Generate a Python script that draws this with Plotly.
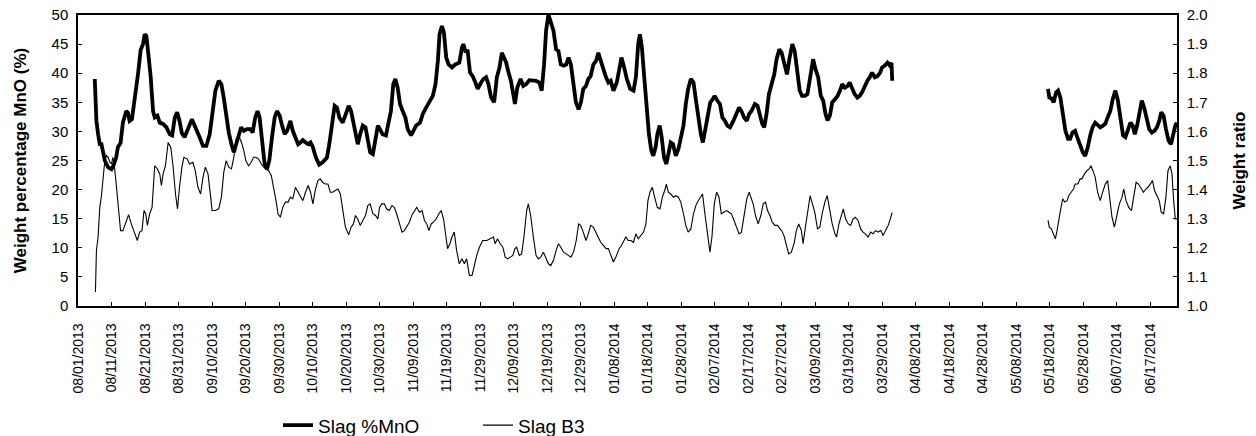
import pandas as pd
import plotly.graph_objects as go

start_date = "2013-08-01"

# Slag %MnO (left axis): day offset from 08/01/2013, value (%)
mno_day = [5.0,5.5,6.0,6.5,7.0,7.5,8.0,9.0,10.0,10.5,11.4,11.9,12.7,13.4,14.4,14.9,15.4,16.1,16.9,17.9,18.7,19.4,19.9,20.4,20.9,21.7,22.4,22.9,23.7,24.4,25.4,26.4,27.4,28.1,28.9,29.6,30.3,31.0,31.8,32.6,33.3,34.0,34.8,35.6,36.3,37.3,38.3,39.3,40.3,41.0,42.0,42.8,43.5,44.2,45,45.8,46.5,47.2,48,48.7,49.5,50.4,51.4,52.1,52.9,53.6,54.2,54.9,55.7,56.4,57.1,57.9,58.7,59.4,60.2,60.9,61.7,62.4,63.4,64.1,64.9,65.7,66.4,67.1,67.9,68.7,69.4,70.1,71,72,73,74.3,75,75.8,76.6,77.3,78,79,79.8,80.8,81.5,82.2,83,83.5,84.2,85,85.8,86.5,87.2,88,88.8,89.5,90.1,90.9,91.9,92.7,93.4,94.1,94.7,95.4,96.1,96.9,97.7,98.4,99.4,100.1,100.9,102.1,102.9,103.9,104.9,105.9,106.7,107.4,107.9,108.6,109.2,109.9,110.6,111.6,112.6,113.8,114.6,115,115.6,116.3,117,117.8,118.6,119.3,120.3,121,121.8,122.5,123.3,124.2,125,125.8,126.5,127,127.8,128.5,129.2,130,130.4,131.1,132.1,132.9,133.7,134.7,135.7,136.7,137.7,138.4,139.1,139.7,140.4,141.1,141.9,142.7,143.4,144.1,144.9,145.7,146.4,147.1,147.9,148.6,149.4,150.1,150.8,151.6,152.3,153,153.8,154.6,155.3,156,156.8,157.6,158.3,159,159.8,160.8,161.5,162.2,163,163.8,164.8,165.8,166.5,167.2,167.7,168.3,169,169.7,170.4,171.1,171.7,172.4,172.9,173.6,174.2,174.9,175.6,176.2,176.9,177.6,178.4,179.2,179.9,180.7,181.4,182.1,182.9,183.7,184.4,185.1,185.9,186.5,187.1,187.9,188.7,189.4,190,190.8,191.6,192.3,193.1,193.8,194.6,195.6,196.6,197.3,198,198.8,199.6,200.3,201,202,202.8,203.5,204.2,204.8,205.5,206.2,207,207.8,208.5,209.3,210,210.7,211.6,212.4,213.2,213.9,214.7,215.4,216.1,216.9,217.7,218.5,219.4,220.1,220.9,221.7,222.4,223.1,223.7,224.4,225.1,225.9,226.7,227.4,228.1,228.9,229.7,230.3,231,231.8,232.6,233.3,234,234.8,235.6,236.3,237,237.8,238.6,239.4,240,240.8,241.6,242.3,242.8,243,
           266,
           289.5,289.9,290.5,291.2,291.9,292.5,293.2,293.9,294.7,295.5,296.1,296.8,297.6,298.4,299.1,299.9,300.6,301.4,302.1,302.8,303.6,304.4,305.1,305.9,306.6,307.3,308.1,308.8,309.6,310.3,311.1,311.9,312.6,313.4,314.1,314.8,315.4,316.1,316.8,317.5,318.2,319,319.7,320.5,321.3,322,322.7,323.3,324,324.7,325.5,326.2,326.9,327.5,328]
mno_val = [39.0,31.8,29.5,27.8,27.8,26.0,25.0,23.8,23.5,24.0,25.5,27.3,28.0,31.5,33.5,33.2,31.8,32.1,35.3,39.8,44.0,45.0,46.7,46.4,43.8,39.3,33.5,32.4,32.7,31.5,31.3,30.7,29.5,29.3,32.4,33.3,31.8,29.7,29.0,30.1,31.3,32.1,31.0,30.1,29.0,27.5,27.5,29.5,33.5,37.0,38.7,38.1,35.8,32.4,29.8,27.8,26.4,27.8,29.5,30.7,30.1,30.4,30.4,29.8,32.4,33.5,32.4,27.8,24.4,23.5,25,29,32.4,33.5,32.7,31,29.5,30.1,31.8,30.1,29,27.8,28.1,28.5,28.1,27.8,28.1,27.3,25.5,24.3,24.7,25.5,27.8,31.3,34.4,34.1,32.4,31.5,32.7,34.4,33.5,31.3,29,27.8,29.5,31,30.7,28.4,26.4,26.1,29,31,30.4,29.5,29.3,31.3,33.5,38.1,39,37.5,34.7,33.5,32.4,30.4,29.3,30.1,31,31.5,33,34.1,35,36.1,38.1,42.1,46.7,48.1,47,42.7,41.5,41,41.5,41.8,44.4,45,43.8,43.8,40.1,39.5,38.4,37.3,38.4,39,39.3,38.1,35.8,35,39.3,41,43.5,42.7,41.8,40.1,38.7,36.1,34.7,37.5,39,37.8,38.1,38.8,38.7,38.7,38.4,37,41.5,47.3,50.1,49,47.3,44.1,43.8,41.5,41.3,41.5,42.7,41.5,37.5,35,33.8,35,37.3,37.8,39,39.5,41.5,42.1,43.5,42.4,40.7,39.3,38.4,38.7,37,38.4,41,42.7,41,39,37.3,37,39.3,45,46.7,44.4,39.3,34.1,29.5,26.7,25.8,27.3,29.5,31,29,25.5,24.4,26.1,28.1,27.8,25.8,27,29,31,34.7,37.3,39,38.4,35.5,32.4,29.5,28.1,30.1,33,35,35.5,36.1,35.3,34.7,32.4,31.8,31,30.7,31.8,33,34.1,33.5,32.4,31.8,33,33.5,34.7,34.4,33,31.3,30.7,33,36.4,38.4,39.8,42.4,44.1,43.5,42.1,39.8,42.7,45,43.8,39.8,37,36.1,36.1,36.4,39.3,42.4,40.7,39.3,36.1,35.3,33,31.9,32.7,35,35.5,36.1,37,38.1,37.5,37.8,38.4,37.3,36.4,35.8,36.1,36.7,37.8,38.7,39.3,40.1,39.3,39.5,40.1,41,41.3,41.8,41.3,41.8,38.7,
           None,
           37.3,35.8,35.7,35,36.7,37,35.8,33,30.1,28.7,28.7,29.8,30.1,28.7,27.5,26.4,25.8,27.3,29.3,30.7,31.5,31,30.7,31,31.3,32.4,33.5,35.5,37,35.5,32.1,29.3,29,30.4,31.5,31,29.5,31,33.5,35.3,34.1,31.8,30.4,29.8,30.1,30.7,31.8,33.3,32.7,30.4,28.4,27.8,29.5,31,31.5]

# Slag B3 (right axis): day offset from 08/01/2013, weight ratio
b3_day = [5.2,5.5,6,6.5,7,7.5,8,8.5,9,9.5,10,10.4,10.9,11.4,11.9,12.7,13.4,14.4,15.1,15.9,16.7,17.7,18.4,19.1,19.7,20.2,20.7,21.4,22.1,22.9,23.7,24.4,24.9,25.4,26.1,26.9,27.7,28.4,29.1,29.7,30.3,31,31.6,32.6,33.3,34.3,35,35.8,36.6,37.3,38,38.8,39.6,40,41,42,42.8,43.5,44.2,45,45.8,46.5,47.2,48,48.8,49.5,50.1,50.9,51.7,52.4,53.1,53.9,54.7,55.4,56.1,56.9,57.7,58.4,59.1,59.7,60.4,61.1,61.9,62.7,63.4,64.1,64.9,65.7,66.4,67.1,67.9,68.7,69.4,70.1,70.8,71.6,72.3,73,73.8,74.6,75.3,76,76.8,77.6,78.3,79,79.8,80.8,81.5,82.2,82.8,83.5,84.2,85,85.8,86.5,87.2,88,88.8,89.5,90,90.7,91.4,92.1,92.9,93.7,94.4,95.1,95.9,96.7,97.4,98.1,98.9,99.7,100.4,101.1,101.9,102.7,103.4,104.1,104.7,105.4,106.1,106.9,107.7,108.4,109.1,109.7,110.3,111,111.6,112.3,113,113.8,114.6,115.3,116,116.8,117.6,118.3,119,119.8,120.8,122,123,124,124.5,125.2,126,126.8,127.5,128.2,129,129.8,130.4,130.9,131.7,132.4,133.1,133.9,134.4,135.1,135.9,136.7,137.4,138.1,138.9,139.6,140.4,141.1,141.9,142.7,143.4,144.1,144.9,145.7,146.4,147.1,147.9,148.7,149.4,150,150.8,151.6,152.3,153,153.8,154.6,155.3,156,156.8,157.6,158.3,159,159.8,160.6,161.5,162.2,163,163.5,164.2,165,165.8,166.5,167.2,168,168.8,169.5,170.1,170.7,171.4,172.1,172.9,173.7,174.4,175.1,175.6,176.2,176.9,177.7,178.4,179.2,179.9,180.7,181.4,182.1,182.9,183.7,184.4,185.1,185.9,186.4,187.1,187.9,188.6,189.2,189.9,190.6,191.3,192,192.8,193.6,194.3,195,195.8,196.6,197.3,198,198.8,199.6,200.3,201,201.5,202.2,203,203.8,204.5,205.2,205.8,206.5,207.2,208,208.8,209.5,210,210.7,211.4,212.1,212.9,213.7,214.4,215.1,215.9,216.4,217.1,217.9,218.5,219.2,219.9,220.7,221.4,222.1,222.9,223.6,224.4,225.1,225.9,226.4,227.1,227.9,228.4,229.1,229.9,230.6,231.3,232,232.8,233.6,234.3,235,235.8,236.6,237.3,238,238.8,239.6,240.3,241,241.8,242.3,242.8,243,
          266,
          289.5,289.9,290.5,291.2,291.7,292.2,292.7,293.2,293.9,294.5,295.2,295.7,296.4,297.1,297.6,298.4,299.1,299.6,300.4,301.1,301.8,302.3,302.9,303.6,304.3,305.1,305.8,306.6,307.3,307.8,308.6,309.3,310.1,310.8,311.6,312.1,312.8,313.6,314.4,315.1,315.8,316.5,317.3,318,318.7,319.3,320,320.7,321.3,322,322.7,323.3,324,324.7,325.3,326,326.5,327,327.5,328]
b3_val = [1.048,1.191,1.237,1.339,1.379,1.442,1.499,1.517,1.511,1.494,1.488,1.511,1.477,1.419,1.351,1.259,1.259,1.288,1.314,1.282,1.254,1.225,1.254,1.259,1.328,1.317,1.277,1.317,1.339,1.482,1.471,1.454,1.414,1.454,1.482,1.562,1.545,1.477,1.385,1.334,1.408,1.477,1.511,1.505,1.488,1.494,1.465,1.408,1.385,1.442,1.477,1.454,1.374,1.328,1.328,1.334,1.374,1.459,1.499,1.477,1.471,1.511,1.574,1.585,1.562,1.534,1.499,1.482,1.494,1.511,1.511,1.505,1.488,1.477,1.471,1.465,1.448,1.408,1.362,1.317,1.305,1.339,1.357,1.357,1.374,1.368,1.408,1.391,1.374,1.362,1.391,1.414,1.391,1.351,1.397,1.431,1.437,1.425,1.419,1.419,1.391,1.391,1.397,1.402,1.385,1.328,1.271,1.245,1.271,1.282,1.311,1.299,1.277,1.294,1.311,1.345,1.351,1.317,1.311,1.299,1.339,1.351,1.351,1.334,1.328,1.345,1.339,1.317,1.282,1.254,1.259,1.271,1.288,1.314,1.328,1.339,1.322,1.328,1.294,1.282,1.259,1.282,1.288,1.299,1.317,1.328,1.299,1.254,1.197,1.214,1.237,1.254,1.191,1.145,1.162,1.145,1.162,1.105,1.105,1.139,1.174,1.202,1.225,1.225,1.231,1.237,1.214,1.231,1.214,1.202,1.168,1.162,1.168,1.174,1.197,1.202,1.174,1.179,1.237,1.328,1.351,1.311,1.237,1.174,1.162,1.168,1.185,1.168,1.145,1.139,1.157,1.191,1.214,1.202,1.185,1.179,1.174,1.168,1.185,1.225,1.282,1.277,1.254,1.225,1.248,1.277,1.271,1.254,1.237,1.219,1.208,1.197,1.197,1.174,1.151,1.17,1.197,1.208,1.225,1.237,1.225,1.225,1.219,1.248,1.231,1.242,1.254,1.282,1.362,1.391,1.408,1.374,1.339,1.334,1.374,1.397,1.419,1.391,1.385,1.374,1.379,1.374,1.357,1.317,1.277,1.254,1.265,1.317,1.345,1.362,1.379,1.385,1.317,1.237,1.185,1.237,1.351,1.391,1.374,1.317,1.322,1.328,1.322,1.317,1.294,1.271,1.248,1.254,1.317,1.368,1.391,1.368,1.351,1.311,1.282,1.311,1.351,1.357,1.328,1.311,1.288,1.277,1.277,1.265,1.259,1.242,1.214,1.179,1.185,1.214,1.259,1.282,1.259,1.214,1.271,1.328,1.379,1.351,1.322,1.265,1.271,1.317,1.357,1.379,1.328,1.282,1.248,1.237,1.282,1.317,1.334,1.299,1.282,1.277,1.299,1.305,1.294,1.265,1.254,1.248,1.237,1.254,1.248,1.259,1.254,1.259,1.242,1.259,1.277,1.294,1.322,1.322,
          None,
          1.294,1.271,1.265,1.248,1.231,1.259,1.299,1.328,1.368,1.357,1.362,1.379,1.391,1.402,1.419,1.419,1.437,1.437,1.454,1.465,1.471,1.482,1.465,1.442,1.391,1.362,1.391,1.419,1.431,1.374,1.305,1.271,1.311,1.351,1.374,1.402,1.362,1.339,1.328,1.385,1.425,1.419,1.402,1.391,1.402,1.408,1.419,1.431,1.397,1.379,1.362,1.322,1.317,1.374,1.465,1.482,1.454,1.362,1.299,1.299]

left_ticks = [0, 5, 10, 15, 20, 25, 30, 35, 40, 45, 50]
right_ticks = [1.0, 1.1, 1.2, 1.3, 1.4, 1.5, 1.6, 1.7, 1.8, 1.9, 2.0]

t0 = pd.Timestamp(start_date)
mno_x = [t0 + pd.Timedelta(days=d) for d in mno_day]
b3_x = [t0 + pd.Timedelta(days=d) for d in b3_day]

FONT = "Liberation Sans, Arial, sans-serif"

fig = go.Figure()
fig.add_trace(go.Scatter(x=mno_x, y=mno_val, mode="lines", name="Slag %MnO",
                         line=dict(color="black", width=3.8), connectgaps=False))
fig.add_trace(go.Scatter(x=b3_x, y=b3_val, mode="lines", name="Slag B3", yaxis="y2",
                         line=dict(color="black", width=1.1), connectgaps=False))

fig.update_layout(
    width=1256, height=436,
    margin=dict(l=78, r=79, t=15, b=130, autoexpand=False),
    paper_bgcolor="white", plot_bgcolor="white",
    font=dict(family=FONT, color="black"),
    showlegend=True,
    legend=dict(orientation="h",
                x=(278 - 78) / 1099, xanchor="left", y=-0.41, yanchor="middle",
                font=dict(size=19), entrywidth=155, entrywidthmode="pixels",
                bgcolor="rgba(0,0,0,0)"),
    xaxis=dict(
        type="date", automargin=False,
        range=[t0, t0 + pd.Timedelta(days=328)],
        tick0=t0, dtick=10 * 86400000, tickformat="%m/%d/%Y",
        tickangle=-90, tickfont=dict(size=14), ticklabelstandoff=10,
        ticks="inside", ticklen=4, tickcolor="black",
        showline=True, linecolor="black", linewidth=1.5, mirror=True,
        showgrid=False, zeroline=False,
    ),
    yaxis=dict(
        range=[0, 50], tickvals=left_ticks, tickfont=dict(size=15), automargin=False,
        ticks="inside", ticklen=4, tickcolor="black", ticklabelstandoff=5,
        showline=True, linecolor="black", linewidth=1.5,
        showgrid=False, zeroline=False,
        title=dict(text="<b>Weight percentage MnO (%)</b>", font=dict(size=17), standoff=21),
    ),
    yaxis2=dict(
        range=[1.0, 2.0], tickvals=right_ticks, tickformat=".1f", tickfont=dict(size=15),
        overlaying="y", side="right", automargin=False,
        ticks="inside", ticklen=4, tickcolor="black", ticklabelstandoff=5,
        showline=True, linecolor="black", linewidth=1.5,
        showgrid=False, zeroline=False,
        title=dict(text="<b>Weight ratio</b>", font=dict(size=17), standoff=26),
    ),
)

fig.write_html("out.html", config={"displayModeBar": False},
               post_script="document.body.style.margin='0px';")
